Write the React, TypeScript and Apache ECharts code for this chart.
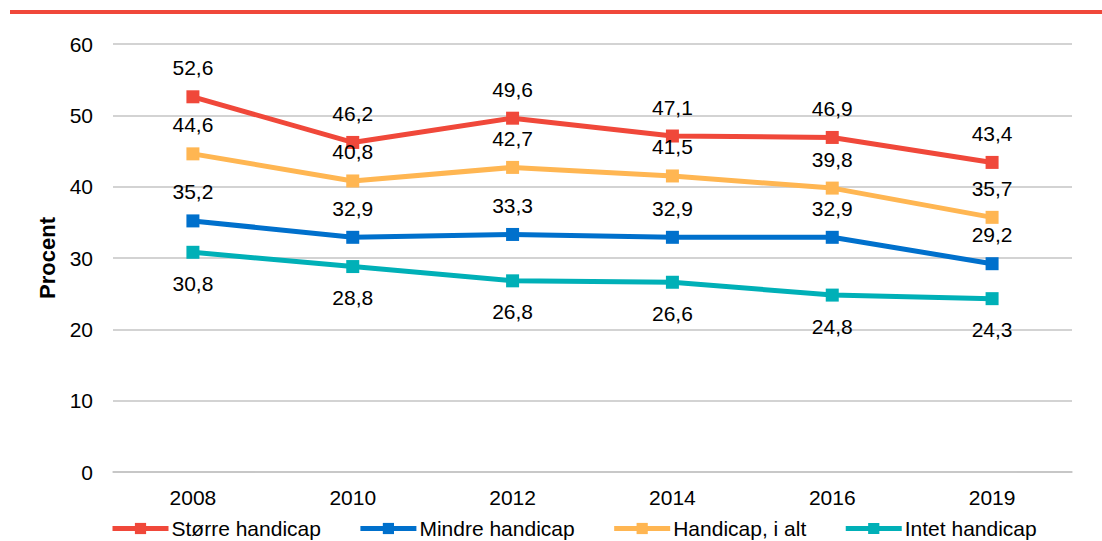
import React, { useEffect, useRef } from "react";
import * as echarts from "echarts";

const categories = ["2008", "2010", "2012", "2014", "2016", "2019"];
const storre = [52.6, 46.2, 49.6, 47.1, 46.9, 43.4];
const mindre = [35.2, 32.9, 33.3, 32.9, 32.9, 29.2];
const iAlt = [44.6, 40.8, 42.7, 41.5, 39.8, 35.7];
const intet = [30.8, 28.8, 26.8, 26.6, 24.8, 24.3];
const seriesNames = ["Større handicap", "Mindre handicap", "Handicap, i alt", "Intet handicap"];

const RED = "#F0483A";
const BLUE = "#0070CC";
const YELLOW = "#FFB652";
const TEAL = "#00B0B7";
const FONT = "Liberation Sans, Arial, sans-serif";

export default function App() {
  const ref = useRef<HTMLDivElement>(null);
  useEffect(() => {
    if (!ref.current) return;
    const chart = echarts.init(ref.current, null, { renderer: "svg" });
    const fmt = (p: any) => Number(p.value).toFixed(1).replace(".", ",");
    const mk = (name: string, data: number[], color: string, pos: string, dist: number) => ({
      name,
      type: "line",
      data,
      symbol: "rect",
      symbolSize: 13,
      lineStyle: { color, width: 5 },
      itemStyle: { color },
      label: {
        show: true,
        position: pos,
        distance: dist,
        formatter: fmt,
        color: "#000",
        fontSize: 21,
        fontFamily: FONT,
      },
    });
    chart.setOption({
      animation: false,
      textStyle: { fontFamily: FONT },
      graphic: [
        { type: "rect", shape: { x: 10, y: 10, width: 1092, height: 4 }, style: { fill: RED } },
      ],
      grid: { left: 113, right: 30, top: 44, bottom: 69, containLabel: false },
      legend: {
        data: seriesNames,
        left: 110,
        top: 518,
        padding: 0,
        itemWidth: 56,
        itemHeight: 14,
        itemGap: 37,
        lineStyle: { width: 5 },
        textStyle: { fontSize: 21, color: "#000", fontFamily: FONT, padding: [0, 0, 0, -2] },
      },
      xAxis: {
        type: "category",
        data: categories,
        boundaryGap: true,
        axisLine: { show: true, lineStyle: { color: "#C4C4C4", width: 1.5 } },
        axisTick: { show: false },
        axisLabel: { color: "#000", fontSize: 21, margin: 15, fontFamily: FONT },
      },
      yAxis: {
        type: "value",
        min: 0,
        max: 60,
        interval: 10,
        name: "Procent",
        nameLocation: "middle",
        nameRotate: 90,
        nameGap: 55,
        nameTextStyle: { fontSize: 22, fontWeight: "bold", color: "#000", fontFamily: FONT },
        axisLine: { show: false },
        axisTick: { show: false },
        axisLabel: { color: "#000", fontSize: 21, margin: 20, fontFamily: FONT },
        splitLine: { lineStyle: { color: "#C4C4C4", width: 1.5 } },
      },
      series: [
        mk(seriesNames[0], storre, RED, "top", 12),
        mk(seriesNames[1], mindre, BLUE, "top", 12),
        mk(seriesNames[2], iAlt, YELLOW, "top", 12),
        mk(seriesNames[3], intet, TEAL, "bottom", 14),
      ],
    });
    return () => chart.dispose();
  }, []);
  return (
    <div
      ref={ref}
      style={{ position: "absolute", left: 0, top: 0, width: 1102, height: 541, background: "#fff" }}
    />
  );
}
